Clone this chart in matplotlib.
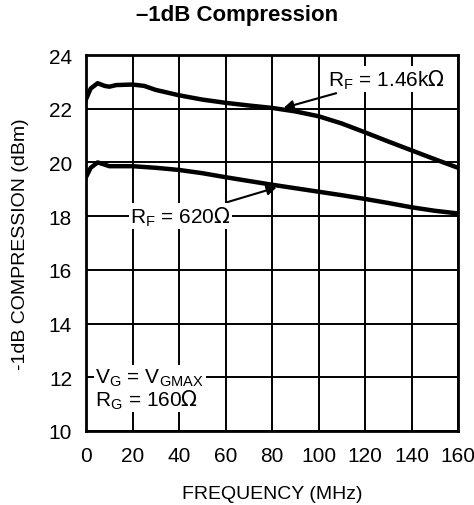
import numpy as np
import matplotlib.pyplot as plt

plt.rcParams['font.family'] = ['Liberation Sans', 'DejaVu Sans']

# data
freq_hi = [0, 2, 5, 8, 10, 13, 20, 25, 30, 40, 50, 60, 70, 80, 90, 100, 110, 120, 130, 140, 150, 160]
comp_hi = [22.35, 22.75, 22.95, 22.85, 22.82, 22.88, 22.9, 22.85, 22.7, 22.5, 22.34, 22.22, 22.12, 22.03, 21.9, 21.72, 21.45, 21.12, 20.78, 20.45, 20.12, 19.8]
freq_lo = [0, 2, 5, 8, 10, 15, 20, 30, 40, 50, 60, 70, 80, 90, 100, 110, 120, 130, 140, 150, 160]
comp_lo = [19.45, 19.8, 20.0, 19.92, 19.86, 19.86, 19.86, 19.8, 19.72, 19.6, 19.45, 19.31, 19.17, 19.04, 18.91, 18.78, 18.64, 18.49, 18.33, 18.2, 18.1]

xticks = np.arange(0, 161, 20)
yticks = np.arange(10, 25, 2)

fig = plt.figure(figsize=(4.74, 5.06), dpi=100)
ax = fig.add_axes([86 / 474, 1 - 432 / 506, 372 / 474, 376 / 506])

ax.plot(freq_hi, comp_hi, color='black', lw=3.2, zorder=3)
ax.plot(freq_lo, comp_lo, color='black', lw=3.2, zorder=3)

ax.set_xlim(0, 160)
ax.set_ylim(10, 24)
ax.set_xticks(xticks)
ax.set_yticks(yticks)
ax.grid(True, color='black', lw=1.4)
ax.set_axisbelow(True)
ax.tick_params(length=0, labelsize=15)
ax.tick_params(axis='x', pad=11)
ax.tick_params(axis='y', pad=10)
for s in ax.spines.values():
    s.set_linewidth(2)

ax.set_xlabel('FREQUENCY (MHz)', fontsize=14, labelpad=14)
ax.set_ylabel('-1dB COMPRESSION (dBm)', fontsize=14, labelpad=14)
fig.text(0.5, 1 - 16 / 506, '\u20131dB Compression', fontsize=16, fontweight='bold',
         ha='center', va='center')

box = dict(facecolor='white', edgecolor='none', pad=1)
ax.annotate(r'R$_\mathregular{F}$ = 1.46k$\Omega$', xy=(85, 22.03), xytext=(104, 23.1),
            fontsize=15, va='center', ha='left', bbox=box, zorder=4,
            arrowprops=dict(arrowstyle='-|>', color='black', lw=1.5, mutation_scale=14,
                            shrinkA=2, shrinkB=0))
ax.annotate(r'R$_\mathregular{F}$ = 620$\Omega$', xy=(82, 19.07), xytext=(19, 18.0),
            fontsize=15, va='center', ha='left', bbox=box, zorder=4,
            arrowprops=dict(arrowstyle='-|>', color='black', lw=1.5, mutation_scale=14,
                            shrinkA=2, shrinkB=0))
ax.text(4, 12, r'V$_\mathregular{G}$ = V$_\mathregular{GMAX}$', fontsize=15, va='center',
        ha='left', bbox=box, zorder=4)
ax.text(4, 11.2, r'R$_\mathregular{G}$ = 160$\Omega$', fontsize=15, va='center',
        ha='left', bbox=box, zorder=4)

fig.savefig('out.png', dpi=100)
